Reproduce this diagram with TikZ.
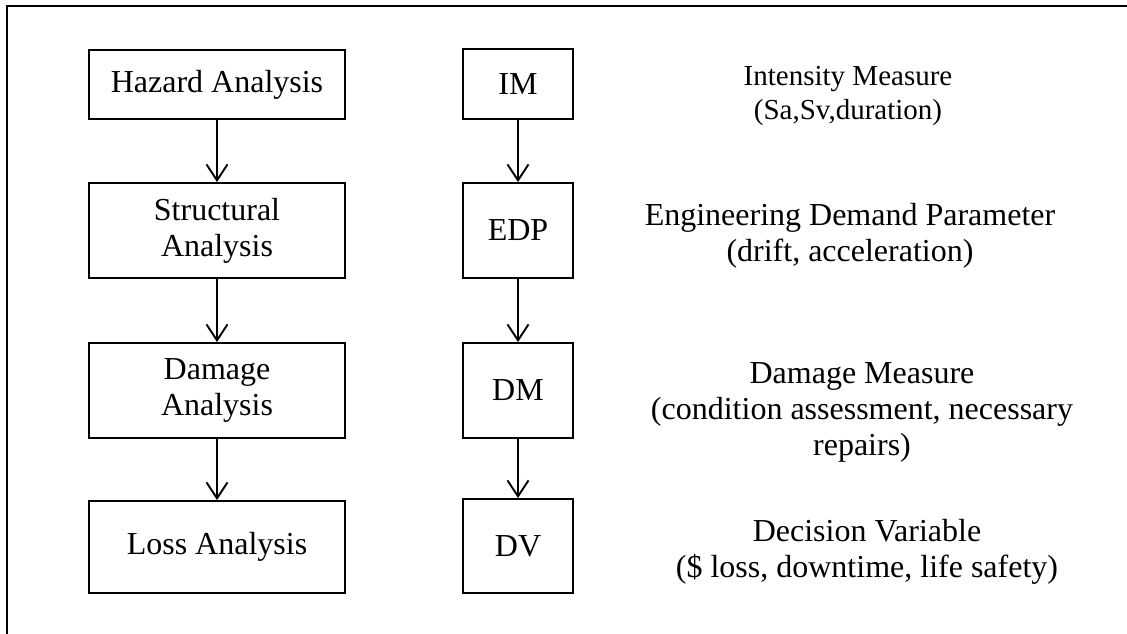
\documentclass[tikz,border=0pt]{standalone}
\usepackage{fontspec}
\setmainfont{Liberation Serif}
\usetikzlibrary{arrows.meta}
\tikzset{
  stepbox/.style={draw=black, line width=1.8pt, align=center, inner sep=0pt,
    font=\fontsize{32}{36}\selectfont},
  leftbox/.style={stepbox, minimum width=256pt},
  midbox/.style={stepbox, minimum width=110pt},
  desc/.style={align=center, inner sep=0pt, font=\fontsize{32}{36}\selectfont},
  smalldesc/.style={desc, font=\fontsize{29}{33.5}\selectfont},
  arr/.style={line width=1.9pt, -{Straight Barb[length=16pt,width=21pt,line width=1.9pt]}},
  frameline/.style={line width=2.4pt, line cap=rect}
}
\begin{document}
\begin{tikzpicture}[x=1pt,y=-1pt]
\useasboundingbox (0,0) rectangle (1127,633);
% outer frame (top and left edges only, cut by the page)
\draw[frameline] (7,633) -- (7,6) -- (1127,6);
% left column
\node[leftbox, minimum height=69pt] (haz) at (217,84.5) {Hazard Analysis};
\node[leftbox, minimum height=95pt] (str) at (217,230.5) {Structural\\Analysis};
\node[leftbox, minimum height=95pt] (dam) at (217,390.5) {Damage\\Analysis};
\node[leftbox, minimum height=92pt] (los) at (217,547) {Loss Analysis};
% middle column
\node[midbox, minimum height=70pt] (im) at (518,84) {IM};
\node[midbox, minimum height=95pt] (edp) at (518,230.5) {EDP};
\node[midbox, minimum height=95pt] (dm) at (518,390.5) {DM};
\node[midbox, minimum height=94pt] (dv) at (518,546) {DV};
% descriptions
\node[smalldesc] (tim) at (848,96) {Intensity Measure\\(Sa,Sv,duration)};
\node[desc] (tedp) at (850,236) {Engineering Demand Parameter\\(drift, acceleration)};
\node[desc] (tdm) at (862,412) {Damage Measure\\(condition assessment, necessary\\repairs)};
\node[desc] (tdv) at (867,552) {Decision Variable\\(\$ loss, downtime, life safety)};
% connectors
\draw[arr] (haz) -- (str);
\draw[arr] (str) -- (dam);
\draw[arr] (dam) -- (los);
\draw[arr] (im) -- (edp);
\draw[arr] (edp) -- (dm);
\draw[arr] (dm) -- (dv);
\end{tikzpicture}
\end{document}
